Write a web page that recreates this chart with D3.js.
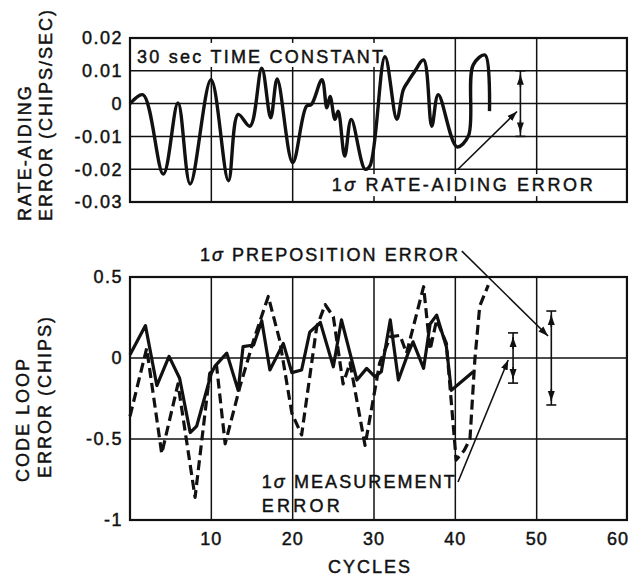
<!DOCTYPE html>
<html>
<head>
<meta charset="utf-8">
<script src="https://cdn.jsdelivr.net/npm/d3@7"></script>
<style>
  body { margin: 0; background: #fff; }
  svg text { font-family: "Liberation Sans", Arial, sans-serif; fill: #111; stroke: #111; stroke-width: 0.45; }
</style>
</head>
<body>
<div id="chart"></div>
<script>
// rate-aiding error, 30 sec time constant (chips/sec)
const rateCycles = [0, 1.6, 4.1, 5.9, 7.4, 9.96, 12.1, 13.3, 14.75, 16.2, 17.3, 18.1, 20.0,
	21.7, 22.3, 23.6, 24.2, 24.6, 25.2, 25.6, 26.4, 27.2, 28.9, 29.5, 31.35, 32.8, 33.6, 34.2,
	35.0, 36.1, 37.1, 37.9, 40.2, 41.6, 42.2, 43.65, 44.2];
const rateValues = [0, 0.0027, -0.0215, 0.0002, -0.0245, 0.0073, -0.0235, -0.0033, -0.0069,
	0.0108, -0.0043, 0.0075, -0.018, -0.0008, -0.0003, 0.0073, -0.0013, 0.0022, -0.0048, -0.0023,
	-0.016, -0.0048, -0.02, -0.019, 0.0143, -0.0048, 0.0042, 0.0068, 0.0098, 0.0133, -0.0069,
	0.0027, -0.0132, -0.0099, 0.0118, 0.0148, -0.0023];

// code loop error (chips), solid
const solidCycles = [0, 1.9, 3.3, 4.8, 6.1, 7.4, 8.2, 10.0, 10.45, 11.9, 13.3, 13.9, 15.2, 16.2,
	17.2, 18.85, 19.9, 21.1, 22.1, 23.4, 25.0, 26.0, 27.9, 29.1, 30.1, 30.9, 32.0, 33.0, 34.2,
	34.8, 36.1, 36.9, 37.7, 38.9, 39.5, 40.2, 42.2];
const solidValues = [0.02, 0.2, -0.17, 0.01, -0.125, -0.46, -0.42, -0.095, -0.05, 0.03, -0.2,
	0.07, 0.08, 0.23, -0.074, 0.09, -0.09, -0.074, 0.16, 0.22, -0.054, 0.235, -0.136, -0.064,
	-0.115, -0.085, 0.235, -0.136, 0.03, 0.1, -0.064, 0.21, 0.265, 0.07, -0.2, -0.17, -0.085];

// code loop error (chips), dashed
const dashedCycles = [0, 2.05, 3.9, 5.9, 8.0, 9.8, 10.65, 11.7, 13.5, 15.2, 17.0, 18.4, 19.9,
	21.1, 22.95, 24.0, 25.0, 26.2, 27.05, 28.9, 30.7, 32.0, 33.2, 34.0, 36.1, 36.9, 37.7, 38.9,
	40.1, 41.1, 41.8, 42.4, 43.0, 44.05];
const dashedValues = [-0.36, 0.06, -0.59, -0.16, -0.86, -0.095, -0.05, -0.53, -0.18, 0.11, 0.38,
	0.11, -0.34, -0.475, 0.19, 0.33, 0.255, -0.16, -0.03, -0.54, -0.03, 0.13, 0.14, 0.03, 0.44,
	0.05, 0.235, 0.09, -0.63, -0.57, -0.5, -0.01, 0.32, 0.45];

// 1-sigma bars: [cycle, sigma]
const rateSigma = [48, 0.01];
const measSigma = [47.1, 0.155];
const prepSigma = [51.8, 0.29];

const xTicks = [10, 20, 30, 40, 50, 60];
const topTicks = [0.02, 0.01, 0, -0.01, -0.02, -0.03];
const topTickLabels = ["0.02", "0.01", "0", "-0.01", "-0.02", "-0.03"];
const botTicks = [0.5, 0, -0.5, -1];
const botTickLabels = ["0.5", "0", "-0.5", "-1"];

const w = 638, h = 582;
const svg = d3.select("#chart").append("svg").attr("width", w).attr("height", h);

svg.append("defs").append("marker")
	.attr("id", "head")
	.attr("viewBox", "0 0 10 10")
	.attr("refX", 10).attr("refY", 5)
	.attr("markerWidth", 10).attr("markerHeight", 10)
	.attr("markerUnits", "userSpaceOnUse")
	.attr("orient", "auto")
	.append("path").attr("d", "M0,1.5 L10,5 L0,8.5 Z").attr("fill", "#111");

const xScale = d3.scaleLinear().domain([0, 60]).range([130, 618]);
const xEnd = 61.1; // frame runs a little past 60
const yTop = d3.scaleLinear().domain([-0.03, 0.02]).range([202, 38]);
const yBot = d3.scaleLinear().domain([-1, 0.5]).range([520, 277]);

function panel(yScale, gridY, ticks, labels) {
	const g = svg.append("g");
	g.selectAll(".gy").data(gridY).join("line")
		.attr("x1", xScale(0)).attr("x2", xScale(xEnd))
		.attr("y1", (d) => yScale(d)).attr("y2", (d) => yScale(d))
		.attr("stroke", "#111").attr("stroke-width", 1.5);
	g.selectAll(".gx").data([10, 20, 30, 40, 50]).join("line")
		.attr("x1", (d) => xScale(d)).attr("x2", (d) => xScale(d))
		.attr("y1", yScale.range()[0]).attr("y2", yScale.range()[1])
		.attr("stroke", "#111").attr("stroke-width", 1.5);
	g.append("rect")
		.attr("x", xScale(0)).attr("y", yScale.range()[1])
		.attr("width", xScale(xEnd) - xScale(0))
		.attr("height", yScale.range()[0] - yScale.range()[1])
		.attr("fill", "none").attr("stroke", "#111").attr("stroke-width", 2.2);
	g.selectAll(".tl").data(ticks).join("text")
		.attr("x", 123).attr("y", (d) => yScale(d)).attr("dy", "0.36em")
		.attr("text-anchor", "end").attr("font-size", 18).attr("letter-spacing", 1.5)
		.text((d, i) => labels[i]);
	return g;
}

// label with an italic sigma after the leading "1"
function label(x, y, str, len, sigma) {
	const t = svg.append("text").attr("x", x).attr("y", y)
		.attr("font-size", 18)
		.attr("textLength", len).attr("lengthAdjust", "spacing");
	if (sigma) {
		t.append("tspan").text("1");
		t.append("tspan").attr("font-style", "italic").text("\u03c3");
		t.append("tspan").text(" " + str);
	} else {
		t.text(str);
	}
	return t;
}

function sigmaBar(yScale, bar) {
	const cx = xScale(bar[0]);
	const y1 = yScale(bar[1]), y2 = yScale(-bar[1]);
	const g = svg.append("g").attr("stroke", "#111").attr("stroke-width", 1.6);
	g.append("line").attr("x1", cx).attr("x2", cx).attr("y1", y1).attr("y2", y2);
	g.append("line").attr("x1", cx - 5).attr("x2", cx + 5).attr("y1", y1).attr("y2", y1);
	g.append("line").attr("x1", cx - 5).attr("x2", cx + 5).attr("y1", y2).attr("y2", y2);
	g.append("line").attr("x1", cx).attr("x2", cx).attr("y1", y1 + 16).attr("y2", y1 + 4)
		.attr("marker-end", "url(#head)");
	g.append("line").attr("x1", cx).attr("x2", cx).attr("y1", y2 - 16).attr("y2", y2 - 4)
		.attr("marker-end", "url(#head)");
}

function pointer(yScale, from, to) {
	svg.append("line")
		.attr("x1", xScale(from[0])).attr("y1", yScale(from[1]))
		.attr("x2", xScale(to[0])).attr("y2", yScale(to[1]))
		.attr("stroke", "#111").attr("stroke-width", 1.6)
		.attr("marker-end", "url(#head)");
}

// ---- top panel ----
panel(yTop, [0.01, 0, -0.01, -0.02], topTicks, topTickLabels);

// white patches behind the in-plot labels
svg.append("rect").attr("x", xScale(0.8)).attr("y", yTop(0.0185))
	.attr("width", 246).attr("height", 24).attr("fill", "#fff");
svg.append("rect").attr("x", xScale(24.6)).attr("y", yTop(-0.0215))
	.attr("width", 264).attr("height", 22).attr("fill", "#fff");
label(xScale(0.86), yTop(0.0124), "30 sec TIME CONSTANT", 246);
label(xScale(24.8), yTop(-0.0267), "RATE-AIDING ERROR", 261, true);

const rateLine = d3.line()
	.x((d, i) => xScale(rateCycles[i]))
	.y((d) => yTop(d))
	.curve(d3.curveCatmullRom.alpha(0.5));
svg.append("path").datum(rateValues).attr("d", rateLine)
	.attr("fill", "none").attr("stroke", "#111").attr("stroke-width", 3.4)
	.attr("stroke-linejoin", "round");

sigmaBar(yTop, rateSigma);
pointer(yTop, [40.33, -0.02], [47.58, -0.0024]);

// ---- bottom panel ----
panel(yBot, [0, -0.5], botTicks, botTickLabels);

const solidLine = d3.line()
	.x((d, i) => xScale(solidCycles[i]))
	.y((d) => yBot(d));
svg.append("path").datum(solidValues).attr("d", solidLine)
	.attr("fill", "none").attr("stroke", "#111").attr("stroke-width", 3.2)
	.attr("stroke-linejoin", "round");

const dashedLine = d3.line()
	.x((d, i) => xScale(dashedCycles[i]))
	.y((d) => yBot(d));
svg.append("path").datum(dashedValues).attr("d", dashedLine)
	.attr("fill", "none").attr("stroke", "#111").attr("stroke-width", 3.2)
	.attr("stroke-dasharray", "10,5").attr("stroke-linejoin", "round");

sigmaBar(yBot, measSigma);
sigmaBar(yBot, prepSigma);

label(xScale(8.6), yBot(0.6), "PREPOSITION ERROR", 258, true);
pointer(yBot, [40.8, 0.66], [51.4, 0.136]);
label(xScale(16.2), yBot(-0.8), "MEASUREMENT", 193, true);
label(xScale(16.2), yBot(-0.95), "ERROR", 78);
pointer(yBot, [40.33, -0.765], [46.5, -0.012]);

// x tick labels
svg.selectAll(".xt").data(xTicks).join("text")
	.attr("x", (d) => xScale(d)).attr("y", 545)
	.attr("text-anchor", "middle").attr("font-size", 18).attr("letter-spacing", 1)
	.text((d) => d);

svg.append("text").attr("x", 370).attr("y", 573)
	.attr("text-anchor", "middle").attr("font-size", 18).attr("letter-spacing", 2)
	.text("CYCLES");

// y titles (rotated)
function yTitle(x, yStart, str) {
	svg.append("text")
		.attr("transform", `translate(${x},${yStart}) rotate(-90)`)
		.attr("font-size", 18).attr("letter-spacing", 2)
		.text(str);
}
yTitle(31, 221, "RATE-AIDING");
yTitle(52, 221, "ERROR (CHIPS/SEC)");
yTitle(29, 482, "CODE LOOP");
yTitle(51, 478, "ERROR (CHIPS)");
</script>
</body>
</html>
